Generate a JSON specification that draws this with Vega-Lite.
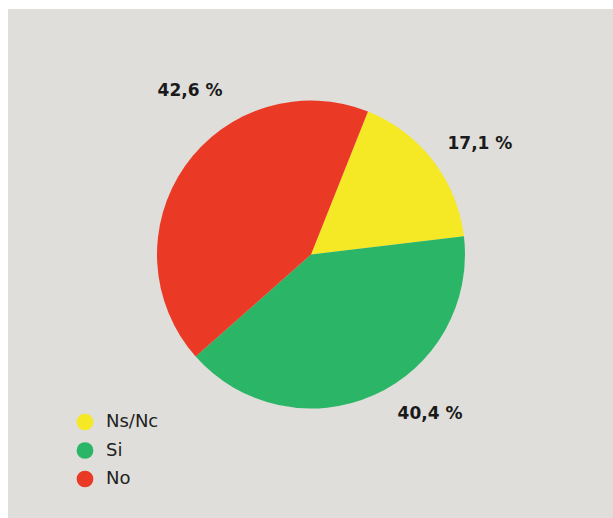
{
  "$schema": "https://vega.github.io/schema/vega-lite/v6.json",
  "width": 613,
  "height": 518,
  "autosize": {"type": "fit", "contains": "padding"},
  "padding": {"left": 8, "top": 9, "right": 0, "bottom": 0},
  "background": "#ffffff",
  "view": {"fill": "#dfdeda", "stroke": null},
  "config": {
    "view": {"fill": "#dfdeda", "stroke": null},
    "font": "DejaVu Sans"
  },
  "data": {
    "values": [
      {"respuesta": "Ns/Nc", "pct": 17.1, "label": "17,1 %"},
      {"respuesta": "Si", "pct": 40.4, "label": "40,4 %"},
      {"respuesta": "No", "pct": 42.6, "label": "42,6 %"}
    ]
  },
  "encoding": {
    "theta": {
      "field": "pct",
      "type": "quantitative",
      "stack": true,
      "scale": {"range": [0.379, 6.662]}
    },
    "order": {"field": "pct", "type": "quantitative", "sort": "ascending"},
    "color": {
      "field": "respuesta",
      "type": "nominal",
      "scale": {"domain": ["Ns/Nc", "Si", "No"], "range": ["#f5e824", "#2bb566", "#ea3a26"]},
      "legend": {
        "title": null,
        "orient": "none",
        "legendX": 68,
        "legendY": 404,
        "symbolType": "circle",
        "symbolSize": 280,
        "symbolStrokeWidth": 0,
        "labelFontSize": 18,
        "labelFont": "DejaVu Sans",
        "labelColor": "#222222",
        "labelOffset": 12,
        "rowPadding": 10.5,
        "padding": 0
      }
    }
  },
  "layer": [
    {
      "mark": {"type": "arc", "outerRadius": 154, "yOffset": -9, "xOffset": 0.5}
    },
    {
      "mark": {"type": "text", "radius": 203, "thetaOffset": 0.32, "yOffset": -9, "xOffset": 0.5, "fontSize": 17, "fontWeight": "bold", "font": "DejaVu Sans", "color": "#1a1a1a"},
      "encoding": {
        "text": {"field": "label", "type": "nominal"},
        "color": {"value": "#1a1a1a"},
        "opacity": {"condition": {"test": "datum.respuesta === 'No'", "value": 1}, "value": 0}
      }
    },
    {
      "mark": {"type": "text", "radius": 202, "thetaOffset": 0.075, "yOffset": -9, "xOffset": 0.5, "fontSize": 17, "fontWeight": "bold", "font": "DejaVu Sans", "color": "#1a1a1a"},
      "encoding": {
        "text": {"field": "label", "type": "nominal"},
        "color": {"value": "#1a1a1a"},
        "opacity": {"condition": {"test": "datum.respuesta === 'Ns/Nc'", "value": 1}, "value": 0}
      }
    },
    {
      "mark": {"type": "text", "radius": 199, "thetaOffset": -0.22, "yOffset": -9, "xOffset": 0.5, "fontSize": 17, "fontWeight": "bold", "font": "DejaVu Sans", "color": "#1a1a1a"},
      "encoding": {
        "text": {"field": "label", "type": "nominal"},
        "color": {"value": "#1a1a1a"},
        "opacity": {"condition": {"test": "datum.respuesta === 'Si'", "value": 1}, "value": 0}
      }
    }
  ]
}
